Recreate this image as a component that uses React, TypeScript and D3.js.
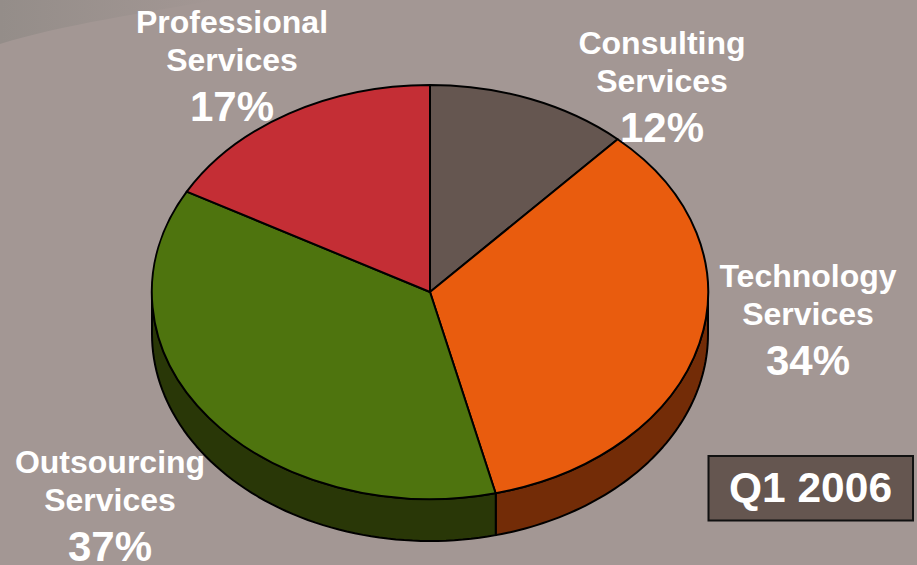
import React from "react";
import * as d3 from "d3";

const categories = ["Consulting Services", "Technology Services", "Outsourcing Services", "Professional Services"];
const shares = [11.8, 34.4, 36.85, 16.95];
const topColors = ["#655650", "#E95C0E", "#4E740E", "#C42E35"];
const wallColors = ["#3a302c", "#732C07", "#293707", "#6e1a1e"];
const labelLines = [["Consulting", "Services", "12%"], ["Technology", "Services", "34%"], ["Outsourcing", "Services", "37%"], ["Professional", "Services", "17%"]];
const labelCentres = [[662, 54], [808, 287], [110, 473], [232, 33]];
const badge = "Q1 2006";

const W = 917, H = 565, CX = 430, CY = 292, RX = 278, RY = 207, DEPTH = 42;

export default function App() {
  const pie = d3.pie<number>().sort(null).value((d) => d);
  const arcs = pie(shares);
  const arc = d3.arc<any>().innerRadius(0).outerRadius(1);
  const px = (a: number) => CX + RX * Math.sin(a);
  const py = (a: number) => CY - RY * Math.cos(a);
  const wall = d3.area<number>().x((a) => px(a)).y0((a) => py(a)).y1((a) => py(a) + DEPTH);
  const walls = arcs.map((s, i) => {
    const a0 = Math.max(s.startAngle, Math.PI / 2);
    const a1 = Math.min(s.endAngle, (3 * Math.PI) / 2);
    if (a1 <= a0) return null;
    const pts = d3.range(0, 61).map((k) => a0 + ((a1 - a0) * k) / 60);
    return <path key={i} d={wall(pts) ?? ""} fill={wallColors[i]} stroke="#000" strokeWidth={2} strokeLinejoin="round" />;
  });
  return (
    <svg width={W} height={H} viewBox={`0 0 ${W} ${H}`} style={{ position: "fixed", left: 0, top: 0, display: "block" }}>
      <defs>
        <linearGradient id="sweep" x1="0" x2="1" y1="0" y2="0">
          <stop offset="0" stopColor="#948D89" />
          <stop offset="1" stopColor="#A39794" />
        </linearGradient>
      </defs>
      <rect width={W} height={H} fill="#A39794" />
      <path d="M0 0H215C150 12 60 25 0 44Z" fill="url(#sweep)" />
      {walls}
      <g transform={`translate(${CX},${CY}) scale(${RX},${RY})`}>
        {arcs.map((s, i) => (
          <path key={i} d={arc(s) ?? ""} fill={topColors[i]} stroke="#000" strokeWidth={2} strokeLinejoin="round" vectorEffect="non-scaling-stroke">
            <title>{categories[i]}</title>
          </path>
        ))}
      </g>
      <g fontFamily="'Liberation Sans', Arial, sans-serif" fontWeight="bold" fill="#fff" textAnchor="middle">
        {labelLines.map((lines, i) => (
          <g key={i}>
            <text x={labelCentres[i][0]} y={labelCentres[i][1]} fontSize={32}>{lines[0]}</text>
            <text x={labelCentres[i][0]} y={labelCentres[i][1] + 38} fontSize={32}>{lines[1]}</text>
            <text x={labelCentres[i][0]} y={labelCentres[i][1] + 88} fontSize={42}>{lines[2]}</text>
          </g>
        ))}
        <rect x={708.5} y={456} width={204.5} height={64.5} fill="#655650" stroke="#111" strokeWidth={2} />
        <text x={810.5} y={502} fontSize={42.5}>{badge}</text>
      </g>
    </svg>
  );
}
